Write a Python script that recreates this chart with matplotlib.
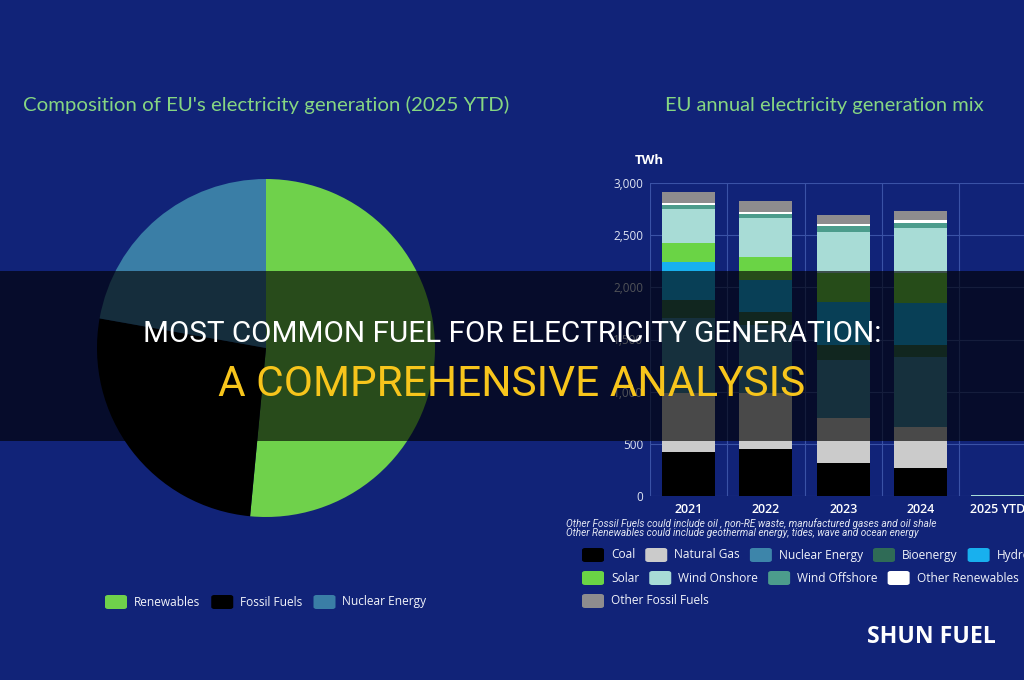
import numpy as np
import matplotlib.pyplot as plt
from matplotlib.patches import FancyBboxPatch, Rectangle

W, H = 1024, 680
BG = '#112378'

# pie: composition of EU electricity generation (2025 YTD), %
pie_labels = ['Renewables', 'Fossil Fuels', 'Nuclear Energy']
pie_values = [51.5, 26.3, 22.2]
pie_colors = ['#6fd14b', '#000000', '#3a7ea6']

# stacked bars: EU annual electricity generation mix, TWh
years = ['2021', '2022', '2023', '2024', '2025 YTD']
coal = [422, 450, 316, 268, 0]
gas = [565, 537, 432, 393, 0]
nuclear = [719, 652, 556, 671, 0]
bioenergy = [173, 125, 144, 115, 0]
hydro = [364, 306, 411, 403, 0]
solar = [182, 221, 281, 290, 0]
wind_on = [326, 371, 393, 429, 12]
wind_off = [40, 41, 55, 51, 0]
other_ren = [15, 20, 19, 25, 0]
other_fossil = [108, 107, 86, 87, 0]

series = [coal, gas, nuclear, bioenergy, hydro, solar, wind_on, wind_off, other_ren, other_fossil]
series_names = ['Coal', 'Natural Gas', 'Nuclear Energy', 'Bioenergy', 'Hydro', 'Solar',
                'Wind Onshore', 'Wind Offshore', 'Other Renewables', 'Other Fossil Fuels']
series_colors = ['#000000', '#cbcbcb', '#3d85aa', '#2f6b56', '#18b0ee', '#6ad445',
                 '#a8dcd6', '#4c9c8c', '#ffffff', '#8e8c8e']

UI = ['Open Sans', 'DejaVu Sans']
TITLE = ['Lato', 'DejaVu Sans']
NARROW = ['Liberation Sans Narrow', 'Roboto', 'DejaVu Sans']


def fx(x):
    return x / W


def fy(y):
    return 1 - y / H


fig = plt.figure(figsize=(10.24, 6.8), dpi=100, facecolor=BG)
r = fig.canvas.get_renderer()


def fit(t, target):
    w = t.get_window_extent(renderer=r).width
    t.set_fontsize(t.get_fontsize() * target / w)


# ---- pie
cx, cy, rad = 266, 348, 169
axp = fig.add_axes([fx(cx - rad), fy(cy + rad), 2 * rad / W, 2 * rad / H])
axp.pie(pie_values, colors=pie_colors, startangle=90, counterclock=False,
        radius=1, wedgeprops=dict(linewidth=0))
axp.set_xlim(-1, 1)
axp.set_ylim(-1, 1)
axp.set_aspect('auto')
axp.axis('off')

# ---- bars
left, right, top, bottom = 650, 1024, 183, 496
spacing = 77.3
axb = fig.add_axes([fx(left), fy(bottom), (right - left) / W, (bottom - top) / H])
axb.set_facecolor('none')
x = np.arange(len(years))
base = np.zeros(len(years))
for vals, col in zip(series, series_colors):
    axb.bar(x, vals, bottom=base, width=53 / spacing, color=col, linewidth=0, zorder=3)
    base += np.array(vals)
axb.set_xlim(-0.5, -0.5 + (right - left) / spacing)
axb.set_ylim(0, 3000)
axb.set_yticks(np.arange(0, 3001, 500))
axb.set_yticklabels([f'{v:,}' for v in range(0, 3001, 500)])
axb.grid(axis='y', color='#3a52a6', linewidth=0.8, zorder=0)
for b in np.arange(-0.5, 4, 1.0):
    axb.axvline(b, color='#3a52a6', linewidth=0.8, zorder=0)
axb.set_xticks(x)
axb.set_xticklabels(years)
for s in axb.spines.values():
    s.set_visible(False)
axb.tick_params(length=0, colors='#dfe4f2')
axb.tick_params(axis='y', pad=5, labelsize=8.5)
axb.tick_params(axis='x', pad=5, labelsize=9)
for lab in axb.get_yticklabels() + axb.get_xticklabels():
    lab.set_family(UI)
for lab in axb.get_xticklabels():
    lab.set_fontweight('semibold')
    lab.set_color('white')
fig.text(fx(635), fy(160), 'TWh', color='white', fontsize=9.5, fontweight='bold',
         family=UI, va='center', ha='left')

# ---- titles
t1 = fig.text(fx(23), fy(105), "Composition of EU's electricity generation (2025 YTD)",
              color='#86d682', fontsize=14, family=TITLE, va='center', ha='left')
fit(t1, 487)
t2 = fig.text(fx(665), fy(105), 'EU annual electricity generation mix',
              color='#86d682', fontsize=14, family=TITLE, va='center', ha='left')
fit(t2, 320)

# ---- footnotes
n1 = fig.text(fx(566), fy(524), 'Other Fossil Fuels could include oil , non-RE waste, manufactured gases and oil shale',
              color='#e2e6f2', fontsize=6.5, style='italic', family=NARROW, va='center')
fit(n1, 372)
n2 = fig.text(fx(566), fy(533), 'Other Renewables could include geothermal energy, tides, wave and ocean energy',
              color='#e2e6f2', fontsize=6.5, style='italic', family=NARROW, va='center')
fit(n2, 350)


# ---- legends
def flow_legend(names, colors, x0, y0, breaks, row_h, gap):
    xx, yy = x0, y0
    for i, (name, col) in enumerate(zip(names, colors)):
        if i in breaks:
            xx, yy = x0, yy + row_h
        p = FancyBboxPatch((fx(xx), fy(yy + 7)), 22 / W, 14 / H,
                           boxstyle='round,pad=0,rounding_size=0.003',
                           transform=fig.transFigure, fc=col, ec='none')
        fig.add_artist(p)
        t = fig.text(fx(xx + 29), fy(yy), name, color='#f2f4fa', fontsize=8.6,
                     family=UI, va='center', ha='left')
        xx += 29 + t.get_window_extent(renderer=r).width + gap


flow_legend(series_names, series_colors, 582, 555, [5, 9], 23, 10)
flow_legend(pie_labels, pie_colors, 105, 602, [], 0, 11)

# ---- banner
fig.add_artist(Rectangle((0, fy(441)), 1, (441 - 271) / H, transform=fig.transFigure,
                         fc='black', alpha=0.64, ec='none', zorder=5))
b1 = fig.text(0.5, fy(334), 'MOST COMMON FUEL FOR ELECTRICITY GENERATION:', color='white',
              fontsize=24, family=NARROW, ha='center', va='center', zorder=6)
fit(b1, 740)
b2 = fig.text(0.5, fy(385), 'A COMPREHENSIVE ANALYSIS', color='#f7c51c',
              fontsize=32, family=NARROW, ha='center', va='center', zorder=6)
fit(b2, 587)

# ---- watermark
wm = fig.text(fx(867), fy(637), 'SHUN FUEL', color='white', fontsize=14,
              fontweight='bold', family=UI, ha='left', va='center')
fit(wm, 129)

fig.savefig('out.png', dpi=100, facecolor=BG)
